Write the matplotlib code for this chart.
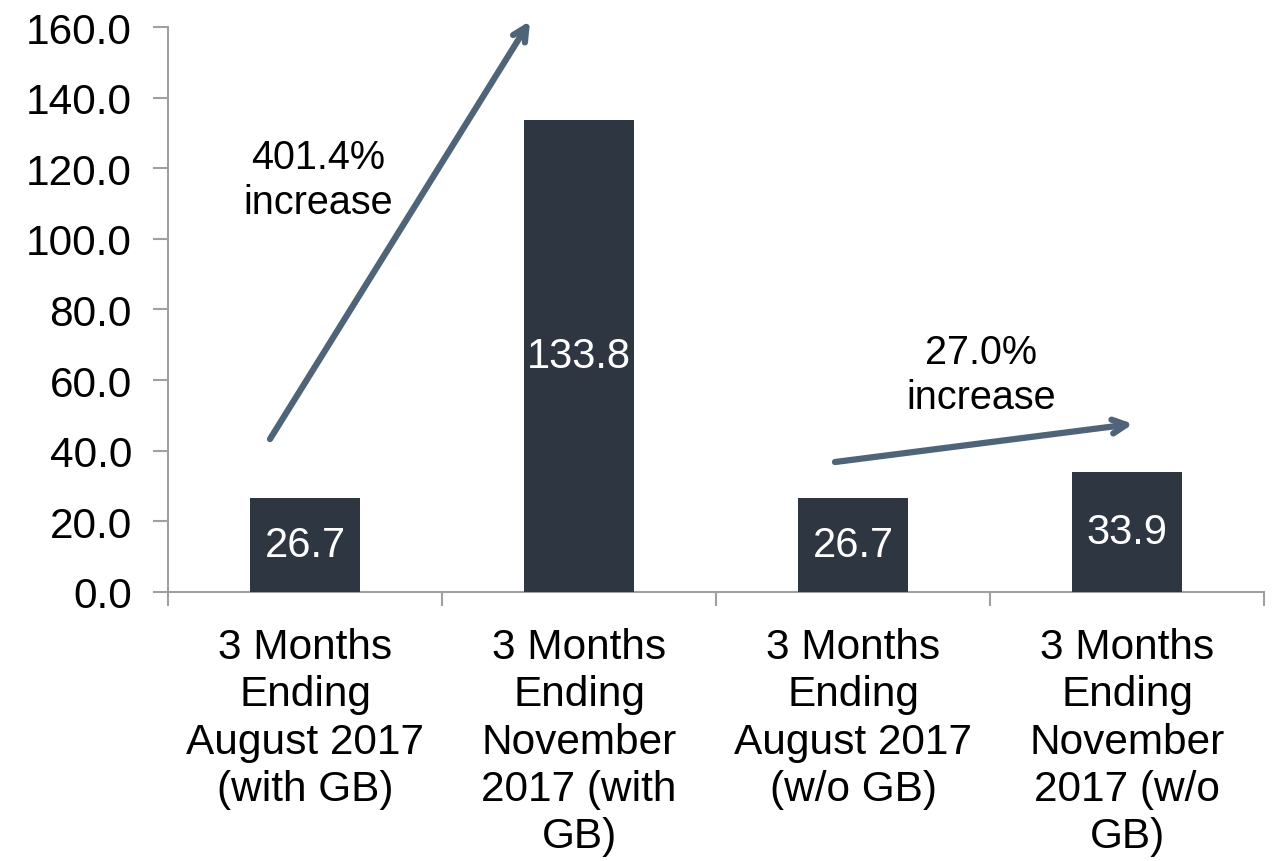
import matplotlib
matplotlib.use("Agg")
import matplotlib.pyplot as plt
import numpy as np

categories = ["3 Months\nEnding\nAugust 2017\n(with GB)",
              "3 Months\nEnding\nNovember\n2017 (with\nGB)",
              "3 Months\nEnding\nAugust 2017\n(w/o GB)",
              "3 Months\nEnding\nNovember\n2017 (w/o\nGB)"]
values = [26.7, 133.8, 26.7, 33.9]
value_labels = ["26.7", "133.8", "26.7", "33.9"]
yticks = [0, 20, 40, 60, 80, 100, 120, 140, 160]
annotations = ["401.4%\nincrease", "27.0%\nincrease"]

plt.rcParams['font.family'] = ['Liberation Sans', 'DejaVu Sans']

fig = plt.figure(figsize=(12.79, 8.62), dpi=100)
ax = fig.add_axes([0.1314, 0.3121, 0.8569, 0.6554])

x = np.arange(len(values))
bars = ax.bar(x, values, width=0.4, color="#2E3642", zorder=3)
ax.bar_label(bars, labels=value_labels, label_type='center', color='white', fontsize=30)

ax.set_xlim(-0.5, 3.5)
ax.set_ylim(0, 160)
ax.set_yticks(yticks)
ax.set_yticklabels([f"{v:.1f}" for v in yticks])
ax.set_xticks(x)
ax.set_xticklabels(categories, fontsize=30.5, linespacing=1.24)
ax.set_xticks(np.arange(-0.5, 4.0, 1.0), minor=True)
ax.tick_params(axis='x', which='major', length=0, pad=25)
ax.tick_params(axis='x', which='minor', length=10, color='#A0A0A0', width=1.5)
ax.tick_params(axis='y', length=11, color='#A0A0A0', width=1.5, labelsize=30.5, pad=15)

for s in ['top', 'right']:
    ax.spines[s].set_visible(False)
for s in ['left', 'bottom']:
    ax.spines[s].set_color('#A0A0A0')
    ax.spines[s].set_linewidth(1.5)

arrow_color = "#4F6478"
ax.annotate("", xy=(0.821, 161.7), xytext=(-0.128, 43.3),
            arrowprops=dict(arrowstyle='->,head_length=1.0,head_width=0.5', color=arrow_color,
                            lw=4.5, capstyle='round', joinstyle='round', shrinkA=0, shrinkB=0),
            annotation_clip=False)
ax.annotate("", xy=(3.022, 47.6), xytext=(1.934, 36.8),
            arrowprops=dict(arrowstyle='->,head_length=1.0,head_width=0.5', color=arrow_color,
                            lw=4.5, capstyle='round', joinstyle='round', shrinkA=0, shrinkB=0),
            annotation_clip=False)

ax.text(0.047, 116.8, annotations[0], ha='center', va='center', fontsize=28.5, linespacing=1.25)
ax.text(2.467, 61.6, annotations[1], ha='center', va='center', fontsize=28.5, linespacing=1.25)

fig.savefig("out.png", dpi=100)
